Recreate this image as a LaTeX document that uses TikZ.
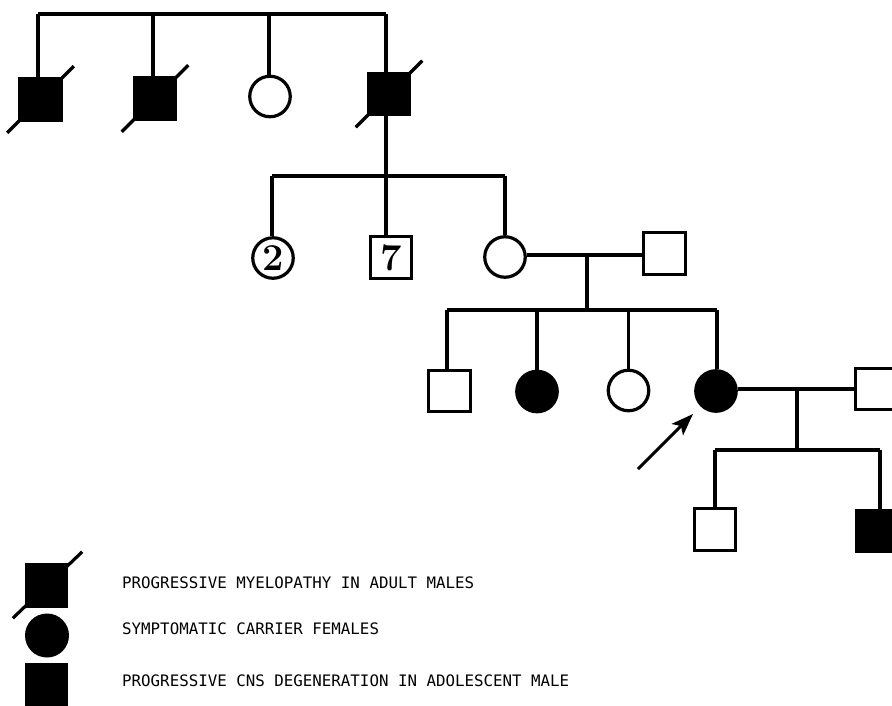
\documentclass[tikz,border=0pt]{standalone}
\usepackage{fontspec}
\newfontfamily\legendfont{DejaVu Sans Mono}
\usetikzlibrary{arrows.meta,calc}
\begin{document}
\begin{tikzpicture}[x=1pt,y=-1pt,
  ln/.style={line width=3.2pt},
  male/.style={draw, line width=3.2pt, rectangle, minimum size=41.5pt, inner sep=0pt},
  female/.style={draw, line width=3.2pt, circle, minimum size=40.5pt, inner sep=0pt},
  aff/.style={fill=black},
  num/.style={font=\fontsize{38}{38}\selectfont\bfseries},
  legsq/.style={rectangle, fill=black, minimum width=43pt, minimum height=45pt, inner sep=0pt},
  legci/.style={circle, fill=black, minimum size=44pt, inner sep=0pt},
  legtext/.style={anchor=base west, inner sep=0pt, font=\legendfont\fontsize{15.8}{16}\selectfont},
  proband/.style={line width=3pt, -{Stealth[length=22pt,width=16pt,inset=5pt]}}
]
\useasboundingbox (0,0) rectangle (892,705);
\clip (0,0) rectangle (892,705);

% Generation I
\node[male,aff] (A) at (40.5,99.5) {};
\node[male,aff] (B) at (155,98.5) {};
\node[female] (C) at (270,96.5) {};
\node[male,aff] (D) at (389,94) {};

% Generation II
\node[female,num] (N2) at (273,258) {2};
\node[male,num] (N7) at (391,257.5) {7};
\node[female] (E) at (505,257) {};
\node[male] (F) at (664.5,253.5) {};

% Generation III
\node[male] (G) at (449.5,391) {};
\node[female,aff] (H) at (537,391.5) {};
\node[female] (I) at (628.5,390.5) {};
\node[female,aff] (J) at (716,391) {};
\node[male] (K) at (876,389) {};

% Generation IV
\node[male] (L) at (715,529.5) {};
\node[male,aff] (M) at (877,531) {};

% Generation I lines
\coordinate (t1) at (38,14);
\coordinate (t2) at (153,14);
\coordinate (t3) at (269,14);
\coordinate (t4) at (386,14);
\draw[ln] (t1) -- (t4);
\draw[ln] (t1) -- (t1 |- A.north);
\draw[ln] (t2) -- (t2 |- B.north);
\draw[ln] (t3) -- (t3 |- C.north);
\coordinate (s2c) at (386,176);
\draw[ln] (t4) -- (s2c);

% slashes (deceased)
\foreach \n in {A,B,D}
  \draw[ln] ($(\n.south west)+(-11,11)$) -- ($(\n.north east)+(11,-11)$);

% Generation II lines
\coordinate (s2l) at (272,176);
\coordinate (s2r) at (505,176);
\draw[ln] (s2l) -- (s2r);
\draw[ln] (s2l) -- (s2l |- N2.north);
\draw[ln] (s2c) -- (s2c |- N7.north);
\draw[ln] (s2r) -- (s2r |- E.north);
\coordinate (m1) at (587,255);
\draw[ln] (m1 -| E.east) -- (m1 -| F.west);
\coordinate (s3) at (587,310);
\draw[ln] (m1) -- (s3);

% Generation III lines
\coordinate (s3l) at (447,310);
\coordinate (s3r) at (717,310);
\draw[ln] (s3l) -- (s3r);
\draw[ln] (s3l) -- (s3l |- G.north);
\draw[ln] (H.north |- s3) -- (H.north);
\draw[ln] (I.north |- s3) -- (I.north);
\draw[ln] (s3r) -- (s3r |- J.north);
\coordinate (m2) at (797,389);
\draw[ln] (m2 -| J.east) -- (m2 -| K.west);
\coordinate (s4) at (797,450);
\draw[ln] (m2) -- (s4);

% Generation IV lines
\coordinate (s4l) at (715,450);
\coordinate (s4r) at (880,450);
\draw[ln] (s4l) -- (s4r);
\draw[ln] (s4l) -- (s4l |- L.north);
\draw[ln] (s4r) -- (s4r |- M.north);

% proband arrow
\coordinate (pt) at (638,469);
\coordinate (ph) at (693,414);
\draw[proband] (pt) -- (ph);

% Legend
\node[legsq] (LA) at (46.5,585.5) {};
\node[legci] (LB) at (47,635.5) {};
\node[legsq] (LC) at (46.5,685.5) {};
\draw[ln] ($(LA.south west)+(-12,10)$) -- ($(LA.north east)+(14,-11)$);
\node[legtext] (T1) at (122,588) {PROGRESSIVE MYELOPATHY IN ADULT MALES};
\node[legtext] (T2) at (122,634) {SYMPTOMATIC CARRIER FEMALES};
\node[legtext] (T3) at (122,686) {PROGRESSIVE CNS DEGENERATION IN ADOLESCENT MALE};
\end{tikzpicture}
\end{document}
